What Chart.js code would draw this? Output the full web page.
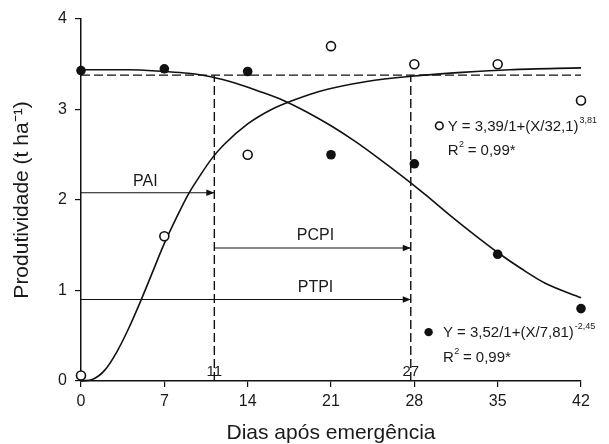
<!DOCTYPE html>
<html><head><meta charset="utf-8">
<script src="https://cdn.jsdelivr.net/npm/chart.js@4.4.0/dist/chart.umd.min.js"></script>
<style>html,body{margin:0;padding:0;background:#fff}#wrap{width:609px;height:444px}</style>
</head><body><div id="wrap"><canvas id="c" width="609" height="444"></canvas></div>
<script>
// ---- data ----
const days = [0, 7, 14, 21, 28, 35, 42];
const openVals = [0.06, 1.6, 2.5, 3.7, 3.5, 3.5, 3.1];
const filledVals = [3.43, 3.45, 3.42, 2.5, 2.4, 1.4, 0.8];
const riseX = [0, 1, 2, 3, 4, 5, 6, 7, 8, 9, 10, 11, 12, 14, 16, 18, 20, 24, 28, 32, 36, 42];
const riseY = [0, 0.02, 0.12, 0.32, 0.58, 0.88, 1.2, 1.52, 1.8, 2.06, 2.27, 2.46, 2.61, 2.84, 3.0, 3.11, 3.2, 3.31, 3.37, 3.41, 3.44, 3.46];
const fallX = [0, 4, 7, 9, 11, 13, 15, 17, 19, 21, 23, 25, 27, 29, 31, 33, 35, 37, 39, 42];
const fallY = [3.44, 3.44, 3.42, 3.4, 3.36, 3.29, 3.2, 3.1, 2.97, 2.82, 2.65, 2.46, 2.26, 2.05, 1.83, 1.62, 1.42, 1.24, 1.08, 0.92];
const refLevel = 3.38;
const pai = 11.2, ptpi = 27.7;
const arrowPAI = [0, pai, 2.08];
const arrowPCPI = [pai, ptpi, 1.47];
const arrowPTPI = [0, ptpi, 0.9];
const xTicks = [0, 7, 14, 21, 28, 35, 42];
const yTicks = [0, 1, 2, 3, 4];

const toXY = (xs, ys) => xs.map((x, i) => ({x, y: ys[i]}));
const seg = (a) => [{x: a[0], y: a[2]}, {x: a[1], y: a[2]}];
const FONT = "'Liberation Sans', Arial, sans-serif";
const TXT = '#1a1a1a';

const dashed = (data) => ({type: 'line', data, borderColor: '#111', borderWidth: 1.4, borderDash: [9, 4], pointRadius: 0, fill: false, tension: 0});
const solid = (data) => ({type: 'line', data, borderColor: '#111', borderWidth: 1.1, pointRadius: 0, fill: false, tension: 0});

const overlay = {
  id: 'overlay',
  afterDatasetsDraw(chart) {
    const ctx = chart.ctx, xs = chart.scales.x, ys = chart.scales.y;
    const X = v => xs.getPixelForValue(v), Y = v => ys.getPixelForValue(v);
    ctx.save();
    ctx.fillStyle = '#111';
    // arrowheads
    [arrowPAI, arrowPCPI, arrowPTPI].forEach(a => {
      const px = X(a[1]), py = Y(a[2]);
      ctx.beginPath(); ctx.moveTo(px, py); ctx.lineTo(px - 8, py - 3.2); ctx.lineTo(px - 8, py + 3.2); ctx.closePath(); ctx.fill();
    });
    ctx.fillStyle = TXT;
    ctx.textBaseline = 'alphabetic';
    ctx.textAlign = 'center';
    ctx.font = '16px ' + FONT;
    ctx.fillText('PAI', X(5.4), Y(arrowPAI[2]) - 7);
    ctx.fillText('PCPI', X(19.7), Y(arrowPCPI[2]) - 8);
    ctx.fillText('PTPI', X(19.7), Y(arrowPTPI[2]) - 8);
    ctx.font = '15px ' + FONT;
    ctx.fillText('11', X(pai), Y(0) - 5);
    ctx.fillText('27', X(ptpi), Y(0) - 5);
    // legend entries
    ctx.textAlign = 'left';
    const eq = (x0, y0, base, sup) => {
      ctx.font = '15px ' + FONT; ctx.fillText(base, x0, y0);
      const w = ctx.measureText(base).width;
      ctx.font = '9px ' + FONT; ctx.fillText(sup, x0 + w + 1, y0 - 8);
    };
    const r2 = (x0, y0) => {
      ctx.font = '15px ' + FONT; ctx.fillText('R', x0, y0);
      const w = ctx.measureText('R').width;
      ctx.font = '9px ' + FONT; ctx.fillText('2', x0 + w + 0.5, y0 - 8);
      ctx.font = '15px ' + FONT; ctx.fillText(' = 0,99*', x0 + w + 5, y0);
    };
    // open-circle legend
    ctx.beginPath(); ctx.arc(X(30.1), Y(2.82), 3.8, 0, Math.PI * 2);
    ctx.fillStyle = '#fff'; ctx.fill(); ctx.lineWidth = 1.6; ctx.strokeStyle = '#111'; ctx.stroke();
    ctx.fillStyle = TXT;
    eq(X(30.8), Y(2.82) + 5, 'Y = 3,39/1+(X/32,1)', '3,81');
    r2(X(30.8), Y(2.555) + 5);
    // filled legend
    ctx.beginPath(); ctx.arc(X(29.2), Y(0.54), 4.2, 0, Math.PI * 2); ctx.fillStyle = '#111'; ctx.fill();
    ctx.fillStyle = TXT;
    eq(X(30.4), Y(0.54) + 5, 'Y = 3,52/1+(X/7,81)', '-2,45');
    r2(X(30.4), Y(0.265) + 5);
    ctx.restore();
  }
};

new Chart(document.getElementById('c'), {
  type: 'scatter',
  data: {
    datasets: [
      {label: 'open', data: toXY(days, openVals), pointRadius: 4.5, pointBackgroundColor: '#fff', pointBorderColor: '#111', pointBorderWidth: 1.6, showLine: false},
      {label: 'filled', data: toXY(days, filledVals), pointRadius: 4.8, pointBackgroundColor: '#111', pointBorderColor: '#111', pointBorderWidth: 0, showLine: false},
      {type: 'line', label: 'rise', data: toXY(riseX, riseY), borderColor: '#111', borderWidth: 1.6, pointRadius: 0, fill: false, cubicInterpolationMode: 'monotone'},
      {type: 'line', label: 'fall', data: toXY(fallX, fallY), borderColor: '#111', borderWidth: 1.6, pointRadius: 0, fill: false, cubicInterpolationMode: 'monotone'},
      dashed([{x: 0, y: refLevel}, {x: 42, y: refLevel}]),
      dashed([{x: pai, y: 0}, {x: pai, y: refLevel}]),
      dashed([{x: ptpi, y: 0}, {x: ptpi, y: refLevel}]),
      solid(seg(arrowPAI)),
      solid(seg(arrowPCPI)),
      solid(seg(arrowPTPI))
    ]
  },
  options: {
    responsive: false, animation: false, clip: false,
    layout: {padding: {left: 0, right: 28, top: 19, bottom: 0}},
    plugins: {legend: {display: false}, tooltip: {enabled: false}},
    scales: {
      x: {
        type: 'linear', min: 0, max: 42,
        afterBuildTicks: s => { s.ticks = xTicks.map(v => ({value: v})); },
        afterFit: s => { s.height = 63; },
        grid: {drawOnChartArea: false, drawTicks: true, tickLength: 6, color: '#111', lineWidth: 1.2},
        border: {display: true, color: '#111', width: 1.5},
        ticks: {color: TXT, font: {family: FONT, size: 16}, padding: 5, maxRotation: 0},
        title: {display: true, text: 'Dias após emergência', color: TXT, font: {family: FONT, size: 21, lineHeight: 1}, padding: {top: 0, bottom: 0}}
      },
      y: {
        type: 'linear', min: 0, max: 4,
        afterBuildTicks: s => { s.ticks = yTicks.map(v => ({value: v})); },
        afterFit: s => { s.width = 81; },
        grid: {drawOnChartArea: false, drawTicks: true, tickLength: 6, color: '#111', lineWidth: 1.2},
        border: {display: true, color: '#111', width: 1.5},
        ticks: {color: TXT, font: {family: FONT, size: 16}, padding: 8},
        title: {display: true, text: 'Produtividade (t ha⁻¹)', color: TXT, font: {family: FONT, size: 21, lineHeight: 1}, padding: {top: 12, bottom: 0}}
      }
    }
  },
  plugins: [overlay]
});
</script></body></html>
